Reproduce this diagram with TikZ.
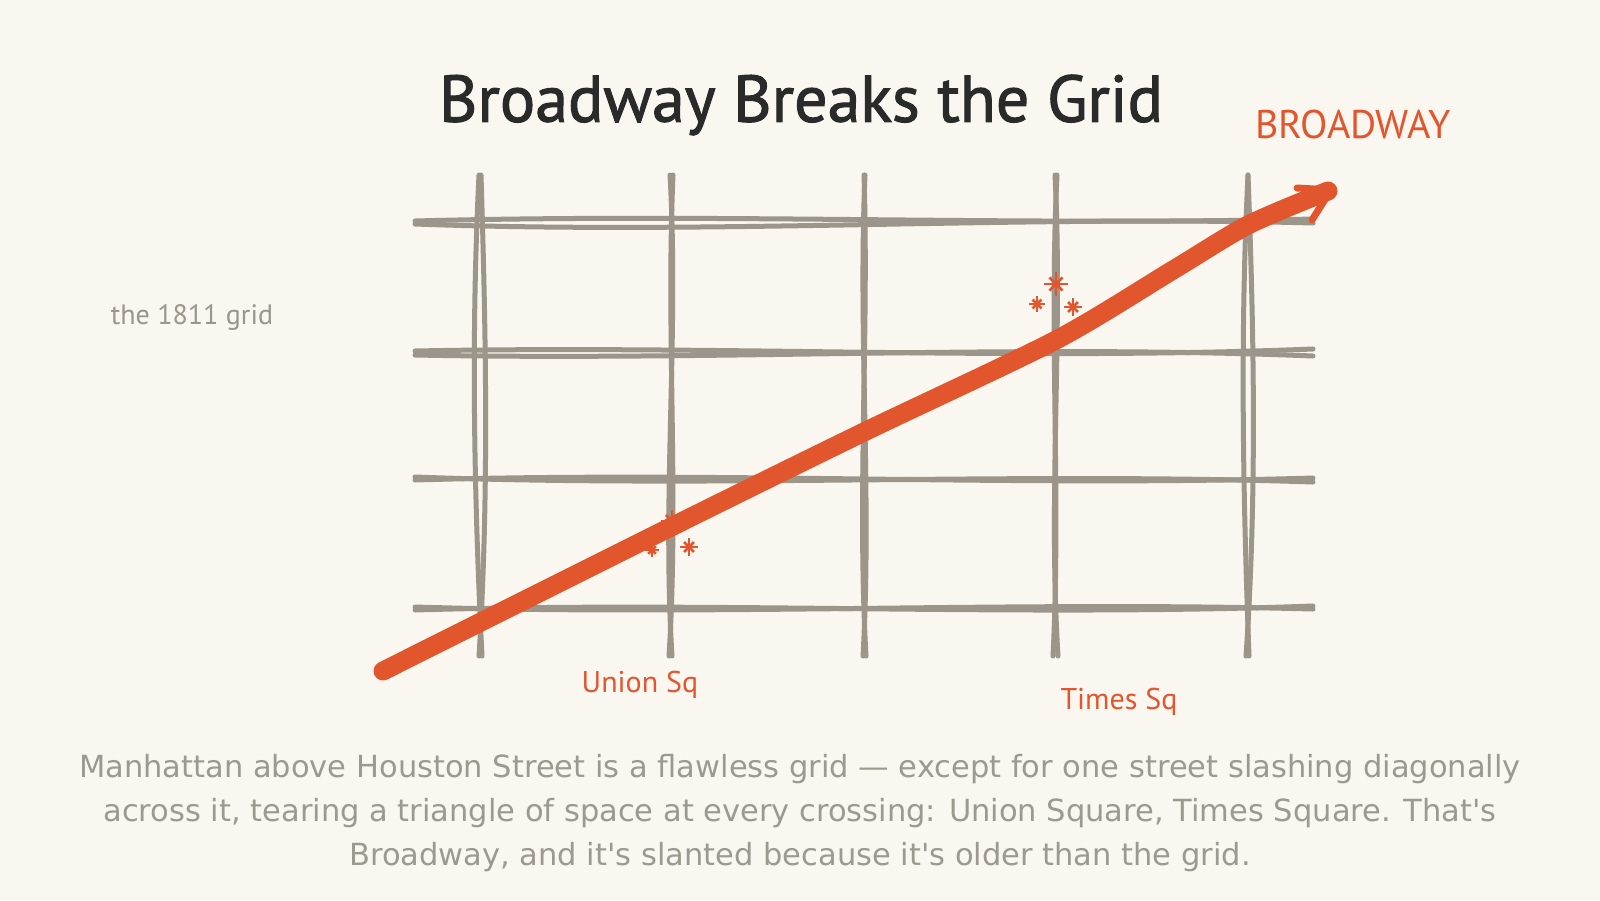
\documentclass[tikz,border=0pt]{standalone}
\usepackage{fontspec}
\setmainfont{DejaVu Sans}[Ligatures=TeXOff]
\newfontfamily\handfont{PT Sans}
\newfontfamily\handbold{PT Sans}[FakeBold=1.6]
\usepackage{xcolor}
\definecolor{paper}{HTML}{FAF7F0}
\definecolor{street}{HTML}{9B958A}
\definecolor{broadred}{HTML}{E2562E}
\definecolor{inkdark}{HTML}{2A2A2A}
\definecolor{capgray}{HTML}{9D998F}

% little star marks at the crossings
\newcommand{\sparkle}[3]{%
  \draw [spark] (#1-#3,#2) -- (#1+#3,#2);
  \draw [spark] (#1,#2-#3) -- (#1,#2+#3);
  \draw [spark] (#1-0.55*#3,#2-0.55*#3) -- (#1+0.55*#3,#2+0.55*#3);
  \draw [spark] (#1-0.55*#3,#2+0.55*#3) -- (#1+0.55*#3,#2-0.55*#3);
}

\begin{document}
\begin{tikzpicture}[x=1pt,y=-1pt,
  gridline/.style={street,line width=5pt,line cap=round},
  spark/.style={broadred,line width=2.6pt},
  hand/.style={font=\handfont\fontsize{#1}{#1}\selectfont,inner sep=0pt},
  broadline/.style={broadred,line width=19pt,line cap=round,line join=round}]
\fill [paper] (0,0) rectangle (1600,900);
\useasboundingbox (0,0) rectangle (1600,900);

% avenues (vertical)
\foreach \x/\ao/\at/\ath/\af/\bo/\bt/\bth/\bf in
  {480/-1/-9/-6/2/1/6/9/-1, 671/2/-5/8/-2/-1/8/-9/1,
   864/0/5/-7/2/1/-6/8/-1, 1056/1/-7/5/-3/-1/7/-8/2,
   1248/0/-8/-5/1/0/6/9/-2} {
  \draw [gridline] (\x+\ao,175) .. controls (\x+\at,335) and (\x+\ath,495) .. (\x+\af,656);
  \draw [gridline] (\x+\bo,175) .. controls (\x+\bt,335) and (\x+\bth,495) .. (\x+\bf,656);
}

% streets (horizontal)
\foreach \y/\ao/\at/\ath/\af/\bo/\bt/\bth/\bf in
  {222/-1/-9/4/-3/2/13/-7/1, 352/-1/-7/9/-3/3/9/-8/4,
   479/1/-8/8/-1/-2/9/-7/3, 608/-1/8/-7/1/2/-7/9/-2} {
  \draw [gridline] (415,\y+\ao) .. controls (715,\y+\at) and (1015,\y+\ath) .. (1313,\y+\af);
  \draw [gridline] (415,\y+\bo) .. controls (715,\y+\bt) and (1015,\y+\bth) .. (1313,\y+\bf);
}

% marks at the two squares
\sparkle{672}{521}{11}
\sparkle{652}{550}{7}
\sparkle{689}{547}{9}
\sparkle{1056}{284}{12}
\sparkle{1037}{304}{8}
\sparkle{1073}{307}{9}

% Broadway
\coordinate (bwtip) at (1331,190);
\draw [broadline] plot [smooth,tension=0.45] coordinates
  {(383,671) (671,527) (864,432) (1056,340) (1173,270) (1248,225) (1328,191)};
\draw [broadred,line width=7pt,line cap=round] (bwtip) -- (1297,188);
\draw [broadred,line width=7pt,line cap=round] (bwtip) -- (1312,220);

% labels
\node [font=\handbold\fontsize{66}{66}\selectfont,inner sep=0pt,text=inkdark] (title) at (801,105) {Broadway Breaks the Grid};
\node [hand=40,text=broadred] (bwlabel) at (1353,124) {BROADWAY};
\node [hand=28,text=street] (gridlabel) at (192,317) {the 1811 grid};
\node [hand=30,text=broadred] (union) at (640,685) {Union Sq};
\node [hand=30,text=broadred] (times) at (1119,702) {Times Sq};

\node [align=center,text=capgray,font=\fontsize{30.5}{44}\selectfont,inner sep=0pt]
  (caption) at (800,813) {Manhattan above Houston Street is a flawless grid — except for one street slashing diagonally\\
  across it, tearing a triangle of space at every crossing: Union Square, Times Square. That's\\
  Broadway, and it's slanted because it's older than the grid.};
\end{tikzpicture}
\end{document}
